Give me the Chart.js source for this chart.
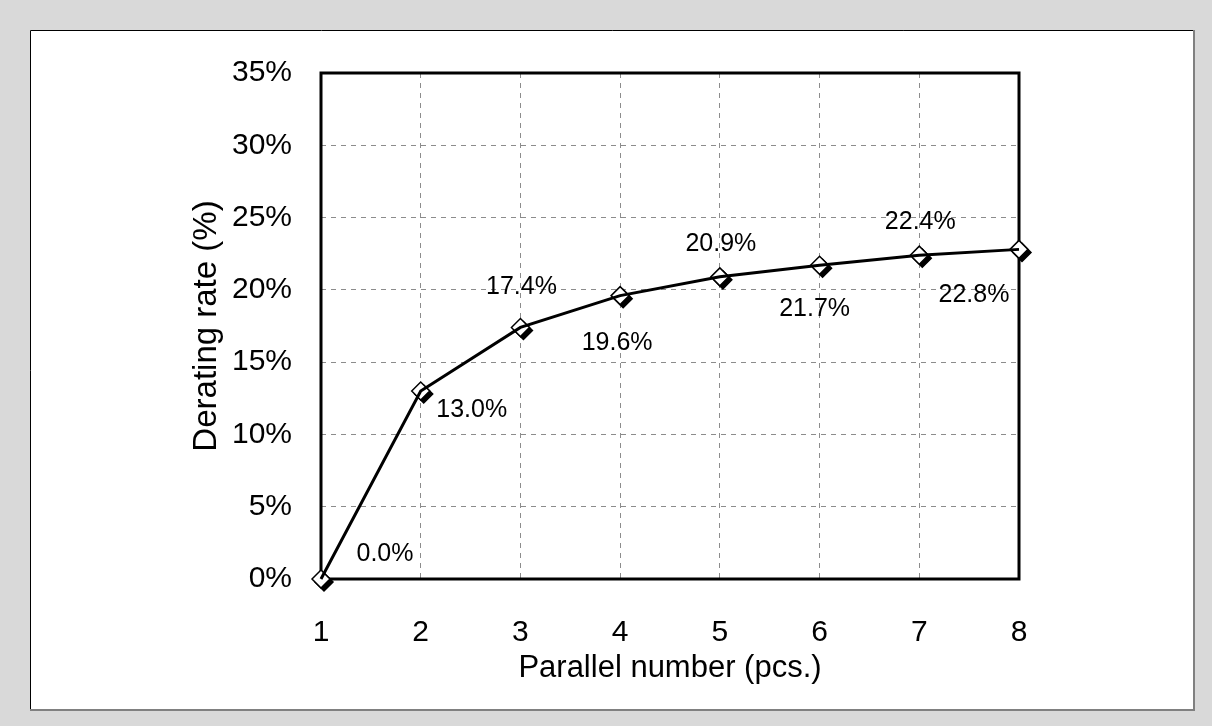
<!DOCTYPE html>
<html>
<head>
<meta charset="utf-8">
<script src="https://cdn.jsdelivr.net/npm/chart.js@4.4.1/dist/chart.umd.min.js"></script>
<style>
    html, body { margin: 0; padding: 0; background: #d9d9d9; }
    #wrap { position: relative; width: 1212px; height: 726px; }
</style>
</head>
<body>
<div id="wrap"><canvas id="derating-chart" width="1212" height="726"></canvas></div>
<script>
// 병렬 개수
const parallelNumbers = ['1', '2', '3', '4', '5', '6', '7', '8'];
// 디레이팅 비율 (%)
const deratingRates = [0.0, 13.0, 17.4, 19.6, 20.9, 21.7, 22.4, 22.8];
// 라벨 텍스트
const rateLabels = ['0.0%', '13.0%', '17.4%', '19.6%', '20.9%', '21.7%', '22.4%', '22.8%'];

const FONT = "'Liberation Sans', Arial, sans-serif";

// 배경 패널
const panelPlugin = {
    id: 'panel',
    beforeDraw(chart) {
        const ctx = chart.ctx;
        ctx.save();
        ctx.fillStyle = '#d9d9d9';
        ctx.fillRect(0, 0, chart.width, chart.height);
        ctx.fillStyle = '#ffffff';
        ctx.fillRect(30, 30, 1164, 680);
        ctx.strokeStyle = '#000000';
        ctx.lineWidth = 1;
        ctx.beginPath();
        ctx.moveTo(30.5, 710);
        ctx.lineTo(30.5, 30.5);
        ctx.lineTo(1194, 30.5);
        ctx.stroke();
        ctx.strokeStyle = '#808080';
        ctx.lineWidth = 2;
        ctx.beginPath();
        ctx.moveTo(1194, 30);
        ctx.lineTo(1194, 710);
        ctx.lineTo(30, 710);
        ctx.stroke();
        ctx.restore();
    },
    // 플롯 테두리
    beforeDatasetsDraw(chart) {
        const a = chart.chartArea;
        const ctx = chart.ctx;
        ctx.save();
        ctx.strokeStyle = '#000000';
        ctx.lineWidth = 3;
        ctx.strokeRect(a.left, a.top, a.right - a.left, a.bottom - a.top);
        ctx.restore();
    }
};

// 마커 그림자 (오른쪽 아래로 밀린 검은 마름모)
const shadowPlugin = {
    id: 'markerShadow',
    beforeDatasetDraw(chart, args) {
        if (args.index !== 1) return;
        const ctx = chart.ctx;
        const meta = chart.getDatasetMeta(1);
        ctx.save();
        ctx.fillStyle = '#000000';
        ctx.strokeStyle = '#000000';
        ctx.lineWidth = 1.5;
        meta.data.forEach(function (pt) {
            Chart.helpers.drawPoint(ctx, { pointStyle: 'rectRot', radius: 9, rotation: 0, borderWidth: 1.5 }, pt.x + 3, pt.y + 3);
        });
        ctx.restore();
    }
};

// 값 라벨
const valueLabelPlugin = {
    id: 'valueLabels',
    afterDatasetsDraw(chart, args, opts) {
        const ctx = chart.ctx;
        const meta = chart.getDatasetMeta(1);
        ctx.save();
        ctx.font = opts.font;
        ctx.fillStyle = '#000000';
        ctx.textAlign = 'center';
        ctx.textBaseline = 'middle';
        meta.data.forEach(function (pt, i) {
            const off = opts.offsets[i];
            ctx.fillText(rateLabels[i], pt.x + off[0], pt.y + off[1]);
        });
        ctx.restore();
    }
};

new Chart(document.getElementById('derating-chart').getContext('2d'), {
    type: 'line',
    data: {
        labels: parallelNumbers,
        datasets: [{
            data: deratingRates,
            borderColor: '#000000',
            borderWidth: 3,
            pointRadius: 0,
            tension: 0,
            clip: false
        }, {
            data: deratingRates,
            showLine: false,
            pointStyle: 'rectRot',
            pointRadius: 9,
            pointBackgroundColor: '#ffffff',
            pointBorderColor: '#000000',
            pointBorderWidth: 1.5,
            clip: false
        }]
    },
    options: {
        responsive: false,
        animation: false,
        events: [],
        layout: {
            padding: { left: 30, right: 193, top: 73, bottom: 16 }
        },
        plugins: {
            legend: { display: false },
            tooltip: { enabled: false },
            valueLabels: {
                font: '25px ' + FONT,
                offsets: [[64, -25], [51, 19], [1, -40], [-3, 47], [1, -33], [-5, 44], [1, -33], [-45, 46]]
            }
        },
        scales: {
            x: {
                offset: false,
                grid: {
                    color: '#8c8c8c',
                    lineWidth: 1,
                    drawTicks: false
                },
                border: { display: false, dash: [5, 5] },
                ticks: {
                    padding: 36,
                    color: '#000000',
                    font: { family: FONT, size: 30 }
                },
                title: {
                    display: true,
                    text: 'Parallel number (pcs.)',
                    color: '#000000',
                    font: { family: FONT, size: 31 },
                    padding: { top: 0, bottom: 23 }
                },
                afterFit: function (scale) {
                    scale.height = 131;
                }
            },
            y: {
                min: 0,
                max: 35,
                grid: {
                    color: '#8c8c8c',
                    lineWidth: 1,
                    drawTicks: false
                },
                border: { display: false, dash: [5, 5] },
                ticks: {
                    stepSize: 5,
                    padding: 29,
                    color: '#000000',
                    font: { family: FONT, size: 30 },
                    callback: function (v) { return v + '%'; }
                },
                title: {
                    display: true,
                    text: 'Derating rate (%)',
                    color: '#000000',
                    font: { family: FONT, size: 33 },
                    padding: { top: 157, bottom: 0 }
                },
                afterFit: function (scale) {
                    scale.width = 291;
                }
            }
        }
    },
    plugins: [panelPlugin, shadowPlugin, valueLabelPlugin]
});
</script>
</body>
</html>
